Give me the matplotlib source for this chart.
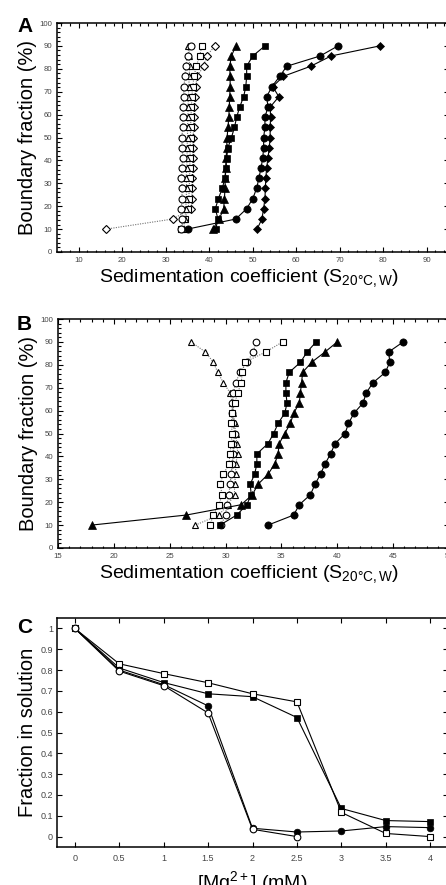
import matplotlib
matplotlib.use("Agg")
import matplotlib.pyplot as plt
from matplotlib.ticker import MultipleLocator

plt.rcParams['font.family'] = ['Liberation Sans', 'DejaVu Sans']
plt.rcParams['mathtext.fontset'] = 'custom'
plt.rcParams['mathtext.rm'] = 'Liberation Sans'
plt.rcParams['mathtext.it'] = 'Liberation Sans'
plt.rcParams['mathtext.default'] = 'regular'

# ---------------- data ----------------
frac_levels = [10, 14.4, 18.9, 23.3, 27.8, 32.2, 36.7, 41.1, 45.6, 50,
               54.4, 58.9, 63.3, 67.8, 72.2, 76.7, 81.1, 85.6, 90]

# Panel A (sedimentation coefficient, S)
a_open_circle = [33.6, 33.8, 33.6, 33.7, 33.8, 33.6, 33.7, 33.9, 33.8, 33.7,
                 33.9, 34.0, 34.0, 34.1, 34.2, 34.4, 34.6, 35.0, 35.8]
a_open_triangle = [34.2, 34.4, 34.6, 34.7, 34.8, 34.7, 34.8, 34.9, 34.9, 35.0,
                   35.0, 35.1, 35.1, 35.2, 35.3, 35.4, 35.5, 35.3, 35.1]
a_open_square = [33.4, 34.4, 35.2, 35.3, 35.4, 35.5, 35.5, 35.6, 35.6, 35.7,
                 35.7, 35.8, 35.9, 36.0, 36.2, 36.5, 37.0, 37.8, 38.3]
a_open_diamond = [16.3, 31.6, 35.9, 36.0, 36.1, 36.1, 36.2, 36.2, 36.3, 36.3,
                  36.4, 36.5, 36.6, 36.7, 36.9, 37.2, 38.7, 39.4, 41.3]
a_filled_triangle = [40.8, 42.3, 43.3, 43.5, 43.6, 43.7, 43.8, 43.9, 44.0, 44.1,
                     44.3, 44.5, 44.6, 44.7, 44.8, 44.8, 44.7, 45.1, 46.1]
a_filled_square = [41.5, 42.0, 41.4, 42.1, 43.0, 43.6, 43.8, 44.0, 44.3, 45.1,
                   45.8, 46.3, 47.0, 47.9, 48.4, 48.6, 48.6, 50.0, 52.8]
a_filled_circle = [35.0, 46.1, 48.6, 50.0, 50.9, 51.4, 51.9, 52.3, 52.5, 52.5,
                   52.8, 52.8, 53.5, 53.2, 54.4, 56.2, 57.8, 65.5, 69.6]
a_filled_diamond = [51.0, 52.1, 52.5, 52.8, 52.9, 53.0, 53.2, 53.5, 53.8, 54.0,
                    54.0, 54.1, 54.0, 56.0, 54.6, 57.0, 63.3, 68.0, 79.2]

# Panel B
b_open_triangle = [27.3, 29.4, 30.2, 30.8, 30.8, 30.9, 30.9, 31.1, 31.0, 30.9,
                   30.8, 30.7, 30.6, 30.4, 29.8, 29.3, 28.9, 28.2, 26.9]
b_open_circle = [29.6, 30.0, 30.1, 30.3, 30.4, 30.5, 30.6, 30.7, 30.7, 30.8,
                 30.7, 30.6, 30.6, 30.7, 30.9, 31.3, 31.9, 32.5, 32.7]
b_open_square = [28.6, 28.9, 29.4, 29.7, 29.5, 29.8, 30.3, 30.4, 30.5, 30.6,
                 30.5, 30.6, 30.8, 31.1, 31.4, 31.5, 31.7, 33.6, 35.1]
b_filled_square = [29.5, 31.0, 31.9, 32.3, 32.2, 32.6, 32.8, 32.8, 33.8, 34.3,
                   34.7, 35.3, 35.5, 35.4, 35.4, 35.7, 36.7, 37.3, 38.1]
b_filled_triangle = [18.0, 26.5, 31.4, 32.4, 32.9, 33.8, 34.4, 34.7, 34.8, 35.3,
                     35.8, 36.1, 36.6, 36.7, 36.8, 36.9, 37.7, 38.9, 40.0]
b_filled_circle = [33.8, 36.1, 36.6, 37.6, 38.0, 38.5, 38.9, 39.4, 39.8, 40.7,
                   41.0, 41.5, 42.3, 42.6, 43.2, 44.3, 44.7, 44.6, 45.9]

# Panel C
mg = [0, 0.5, 1, 1.5, 2, 2.5, 3, 3.5, 4]
c_filled_square = [1.0, 0.81, 0.74, 0.686, 0.672, 0.572, 0.135, 0.077, 0.072]
c_open_square = [1.0, 0.83, 0.783, 0.739, 0.686, 0.647, 0.116, 0.015, 0.0]
c_filled_circle = [1.0, 0.80, 0.73, 0.628, 0.04, 0.022, 0.027, 0.048, 0.043]
mg_open_circle = [0, 0.5, 1, 1.5, 2, 2.5]
c_open_circle = [1.0, 0.795, 0.725, 0.594, 0.035, 0.0]

# ---------------- figure ----------------
fig = plt.figure(figsize=(4.46, 8.85), dpi=100)
W, H = 446, 885

def axes_px(left, top, right, bottom):
    return fig.add_axes([left / W, 1 - bottom / H, (right - left) / W, (bottom - top) / H])

axA = axes_px(57, 23, 448.5, 252)
axB = axes_px(58, 319, 449, 548)
axC = axes_px(57, 618, 448, 847)

tick_col = '#444444'

def style(ax, size):
    for s in ax.spines.values():
        s.set_linewidth(1.1)
    ax.tick_params(which='both', direction='in', top=True, right=True,
                   labelsize=size, labelcolor=tick_col, width=0.8)
    ax.tick_params(which='major', length=3.5, pad=3.5)
    ax.tick_params(which='minor', length=1.8)

line_kw = dict(color='black', lw=0.8)
dot_kw = dict(color='0.45', lw=0.8, linestyle=(0, (1, 1.2)))
open_kw = dict(markerfacecolor='white', markeredgecolor='black', markeredgewidth=0.8)
fill_kw = dict(markerfacecolor='black', markeredgecolor='black', markeredgewidth=0.5)

# Panel A
ax = axA
ax.plot(a_open_diamond, frac_levels, marker='D', ms=4.2, **dot_kw, **open_kw, zorder=2)
ax.plot(a_open_square, frac_levels, marker='s', ms=4.6, **dot_kw, **open_kw, zorder=2)
ax.plot(a_open_triangle, frac_levels, marker='^', ms=5.0, **dot_kw, **open_kw, zorder=2)
ax.plot(a_open_circle, frac_levels, marker='o', ms=5.0, **dot_kw, **open_kw, zorder=2)
ax.plot(a_filled_triangle, frac_levels, marker='^', ms=5.2, **line_kw, **fill_kw, zorder=3)
ax.plot(a_filled_square, frac_levels, marker='s', ms=4.6, **line_kw, **fill_kw, zorder=3)
ax.plot(a_filled_diamond, frac_levels, marker='D', ms=4.2, **line_kw, **fill_kw, zorder=3)
ax.plot(a_filled_circle, frac_levels, marker='o', ms=5.2, **line_kw, **fill_kw, zorder=3)
ax.set_xlim(5, 95)
ax.set_ylim(0, 100)
ax.xaxis.set_major_locator(MultipleLocator(10))
ax.xaxis.set_minor_locator(MultipleLocator(2))
ax.yaxis.set_major_locator(MultipleLocator(10))
ax.yaxis.set_minor_locator(MultipleLocator(2))
style(ax, 5.6)
ax.set_xticks([10, 20, 30, 40, 50, 60, 70, 80, 90])

# Panel B
ax = axB
ax.plot(b_open_triangle, frac_levels, marker='^', ms=5.0, **dot_kw, **open_kw, zorder=2)
ax.plot(b_open_circle, frac_levels, marker='o', ms=4.8, **dot_kw, **open_kw, zorder=2)
ax.plot(b_open_square, frac_levels, marker='s', ms=4.6, **dot_kw, **open_kw, zorder=2)
ax.plot(b_filled_square, frac_levels, marker='s', ms=4.6, **line_kw, **fill_kw, zorder=3)
ax.plot(b_filled_triangle, frac_levels, marker='^', ms=5.2, **line_kw, **fill_kw, zorder=3)
ax.plot(b_filled_circle, frac_levels, marker='o', ms=5.2, **line_kw, **fill_kw, zorder=3)
ax.set_xlim(15, 50)
ax.set_ylim(0, 100)
ax.xaxis.set_major_locator(MultipleLocator(5))
ax.xaxis.set_minor_locator(MultipleLocator(1))
ax.yaxis.set_major_locator(MultipleLocator(10))
ax.yaxis.set_minor_locator(MultipleLocator(2))
style(ax, 5.6)

# Panel C
ax = axC
ax.plot(mg, c_filled_square, marker='s', ms=4.6, **line_kw, **fill_kw, zorder=3)
ax.plot(mg, c_open_square, marker='s', ms=4.6, **line_kw, **open_kw, zorder=3)
ax.plot(mg, c_filled_circle, marker='o', ms=4.8, **line_kw, **fill_kw, zorder=3)
ax.plot(mg_open_circle, c_open_circle, marker='o', ms=4.8, **line_kw, **open_kw, zorder=4)
ax.set_xlim(-0.2, 4.2)
ax.set_ylim(-0.05, 1.05)
ax.set_xticks(mg)
ax.set_xticklabels(['0', '0.5', '1', '1.5', '2', '2.5', '3', '3.5', '4'])
ax.set_yticks([0, 0.1, 0.2, 0.3, 0.4, 0.5, 0.6, 0.7, 0.8, 0.9, 1.0])
ax.set_yticklabels(['0', '0.1', '0.2', '0.3', '0.4', '0.5', '0.6', '0.7', '0.8', '0.9', '1'])
style(ax, 6.5)
ax.tick_params(axis='x', pad=5)
ax.tick_params(axis='y', pad=3)

# Labels
ylab_size = 14.5
xlab_size = 14
sed_label = 'Sedimentation coefficient (S$_{20\u00b0C,W}$)'
for ax in (axA, axB):
    ax.set_ylabel('Boundary fraction (%)', fontsize=ylab_size)
    ax.set_xlabel(sed_label, fontsize=xlab_size)
    ax.yaxis.set_label_coords(-0.05, 0.5)
    ax.xaxis.set_label_coords(0.49, -0.065)
axC.set_ylabel('Fraction in solution', fontsize=ylab_size)
axC.yaxis.set_label_coords(-0.05, 0.5)
axC.set_xlabel('[Mg$^{2+}$] (mM)', fontsize=xlab_size)
axC.xaxis.set_label_coords(0.5, -0.098)

fig.text(17 / W, 1 - 32 / H, 'A', fontsize=15, fontweight='bold', va='baseline')
fig.text(17 / W, 1 - 330 / H, 'B', fontsize=15, fontweight='bold', va='baseline')
fig.text(17 / W, 1 - 633 / H, 'C', fontsize=15, fontweight='bold', va='baseline')

fig.savefig('out.png', dpi=100)
